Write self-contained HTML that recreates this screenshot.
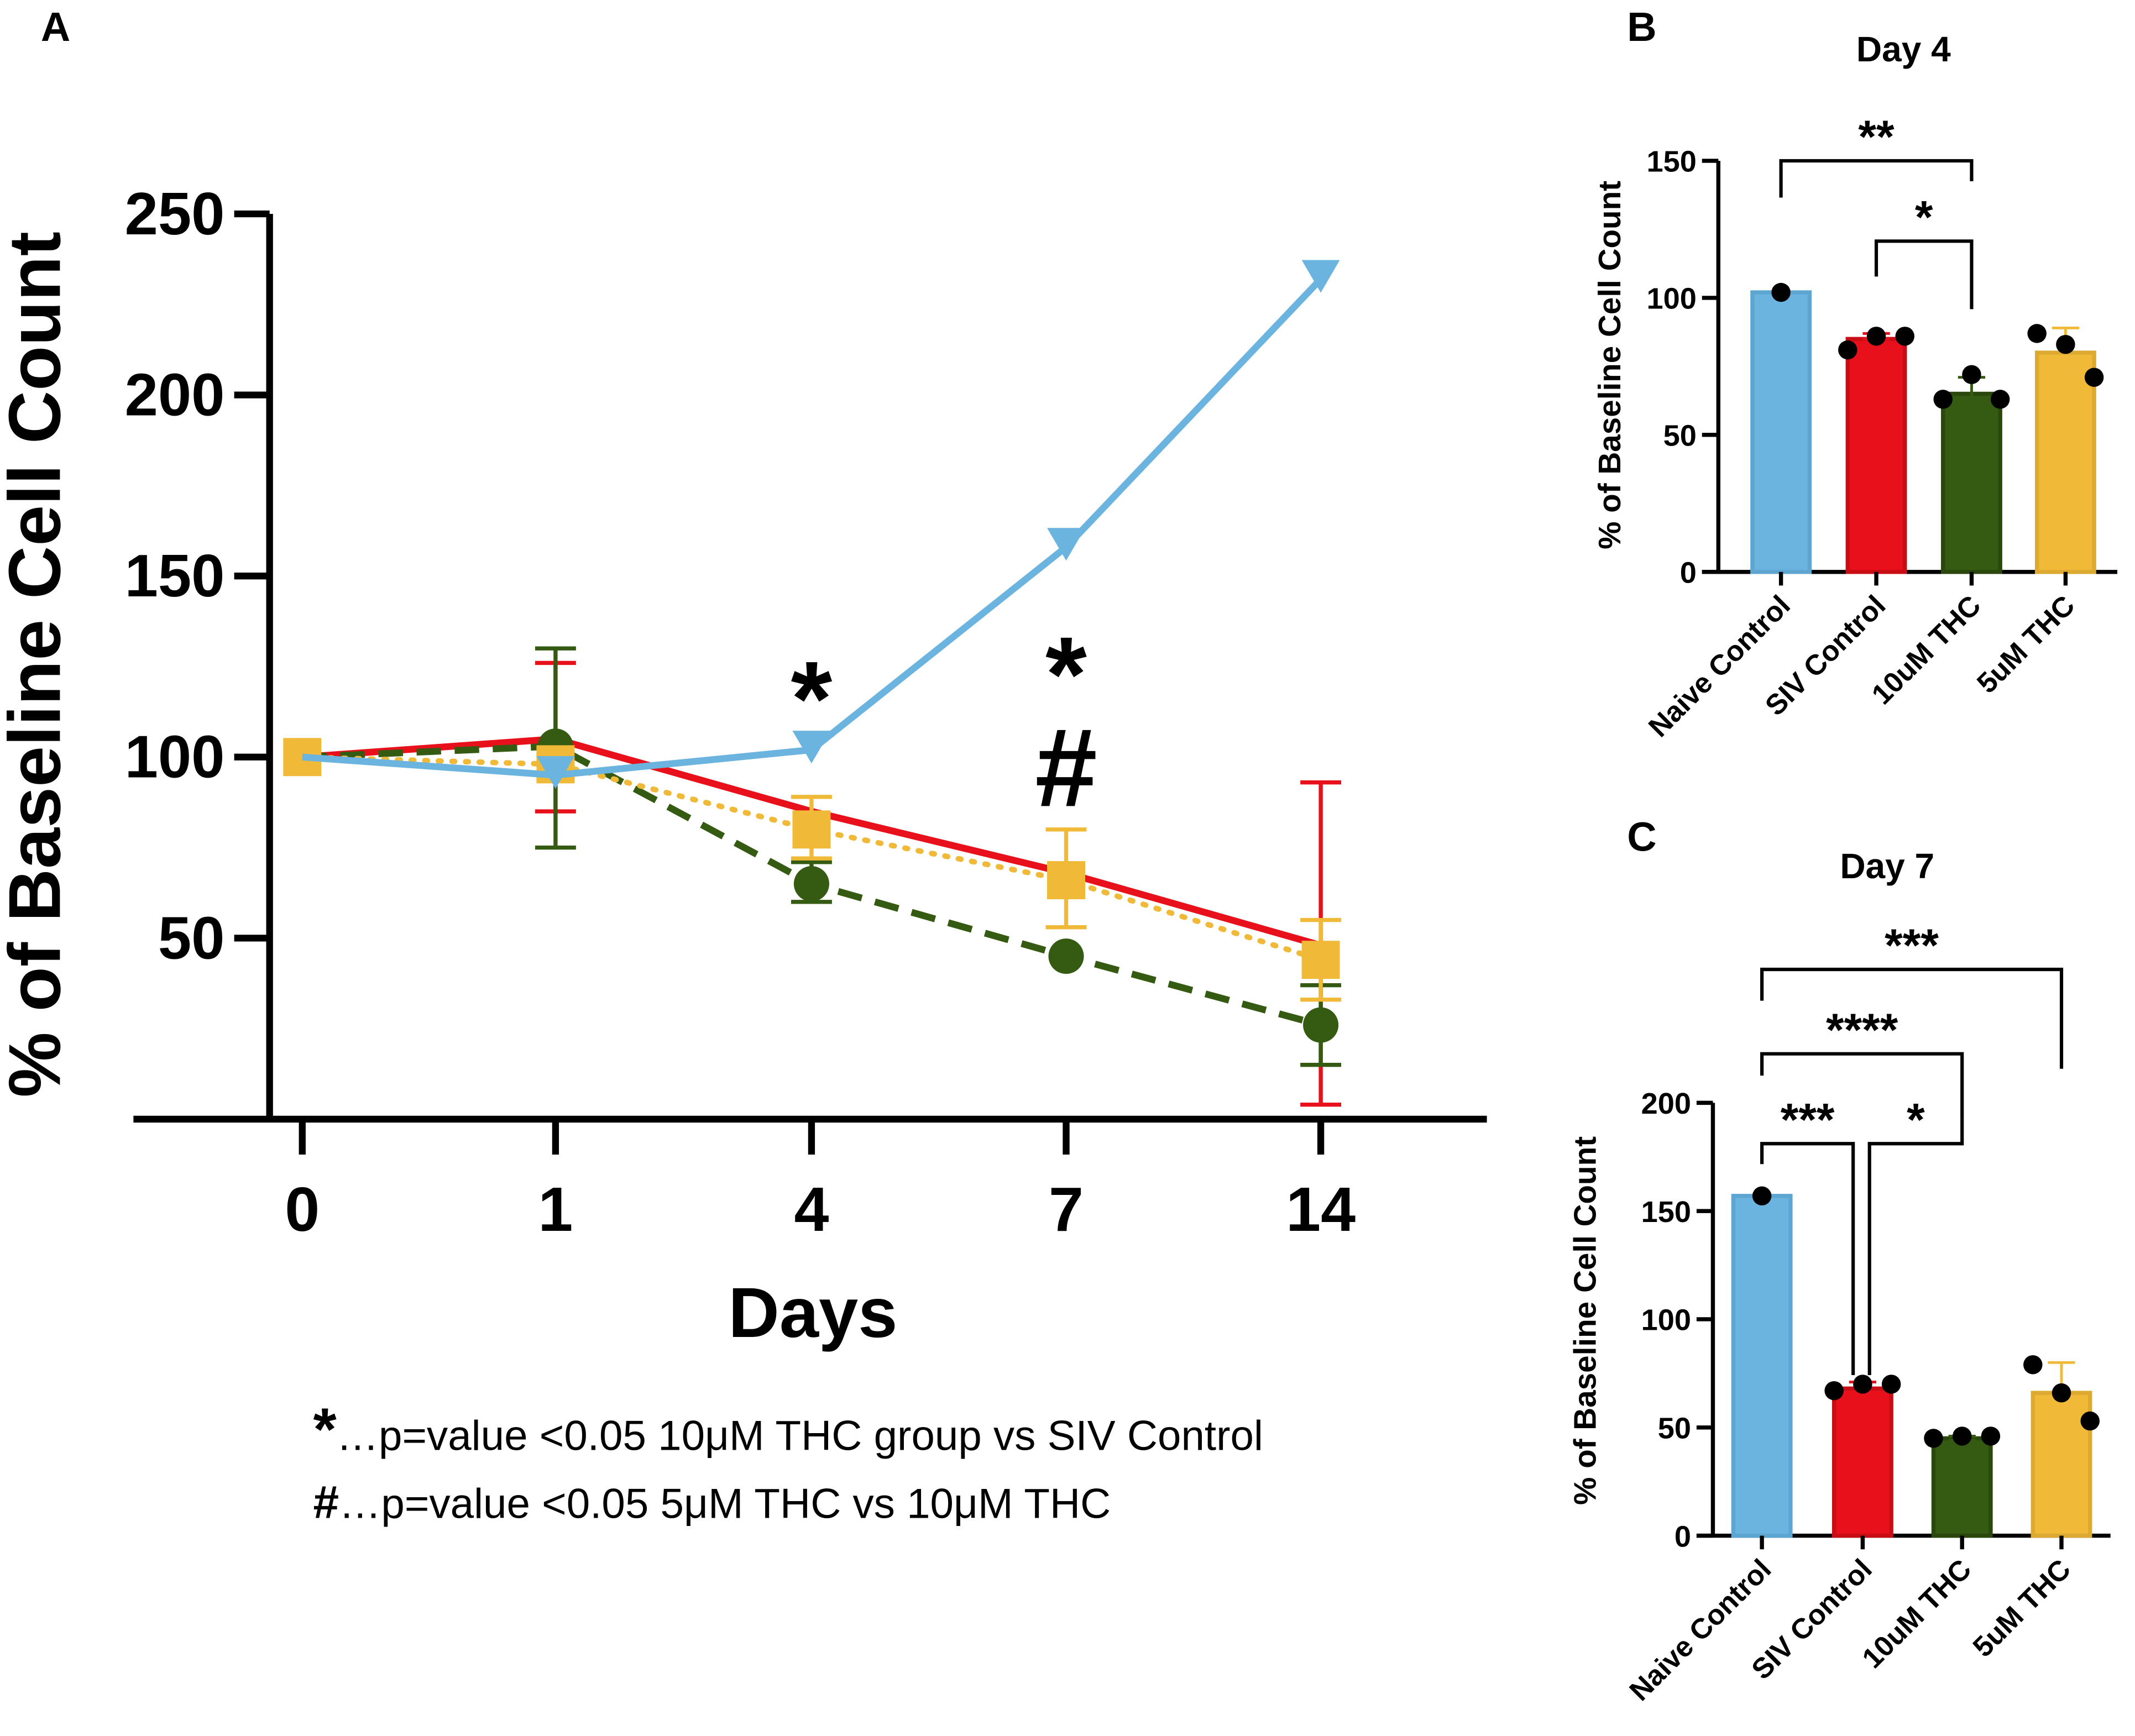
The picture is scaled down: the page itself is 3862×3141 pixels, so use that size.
<!DOCTYPE html>
<html><head><meta charset="utf-8"><style>
html,body{margin:0;padding:0;background:#fff}
svg{display:block}
text{font-family:"Liberation Sans",Arial,sans-serif;font-weight:bold;fill:#000}
</style></head><body>
<svg id="fig" xmlns="http://www.w3.org/2000/svg" width="3862" height="3141" viewBox="0 0 1568 1275">
<rect width="1568" height="1275" fill="#fff"/>
<g id="pA"></g>
<g id="pB"></g>
<g id="pC"></g>
</svg>
<script>
// ---- Panel A data ----
const daysA = ["0","1","4","7","14"];
const naiveA = [100, 95, 102, 158, 232];
const sivA = [100, 105, 85, 68, 48];
const thc10A = [100, 103, 65, 45, 26];
const thc5A = [100, 98, 80, 66, 44];
const sivErrLo = [null, 85, null, null, 4];
const sivErrHi = [null, 126, null, null, 93];
const thc10ErrLo = [null, 75, 60, null, 15];
const thc10ErrHi = [null, 130, 71, null, 37];
const thc5ErrLo = [null, null, 72, 53, 33];
const thc5ErrHi = [null, null, 89, 80, 55];
const ticksA = [50, 100, 150, 200, 250];
// ---- Panel B data ----
const groups = ["Naive Control","SIV Control","10uM THC","5uM THC"];
const meansB = [102, 85, 65, 80];
const errLoB = [null, 85, 59, 71];
const errHiB = [null, 87, 71, 89];
const dotsB = [[102],[81,86,86],[63,72,63],[87,83,71]];
const ticksB = [0, 50, 100, 150];
// ---- Panel C data ----
const meansC = [157, 68, 45, 66];
const errLoC = [null, 66, 44, 53];
const errHiC = [null, 71, 46, 80];
const dotsC = [[157],[67,70,70],[45,46,46],[79,66,53]];
const ticksC = [0, 50, 100, 150, 200];

const NS="http://www.w3.org/2000/svg";
const COL={blue:"#6cb4e0",red:"#e8111b",green:"#355a12",yellow:"#f0ba38"};
function mk(parent,tag,attrs,txt){const e=document.createElementNS(NS,tag);for(const k in attrs)e.setAttribute(k,attrs[k]);if(txt!=null)e.textContent=txt;parent.appendChild(e);return e;}

// ===== Panel A =====
const A=document.getElementById('pA');
const xA=i=>[222,408,596,783,970][i];
const yA=v=>822-(v/50)*133;
let t=mk(A,'text',{x:30,y:30,'font-size':30});t.textContent='A';

let ax=mk(A,'line',{x1:198,y1:157,x2:198,y2:822,stroke:'#000','stroke-width':5});

ax=mk(A,'line',{x1:98,y1:822,x2:1092,y2:822,stroke:'#000','stroke-width':5});

ticksA.forEach(v=>{
  const l=mk(A,'line',{x1:172,y1:yA(v),x2:198,y2:yA(v),stroke:'#000','stroke-width':5});
  
  const tx=mk(A,'text',{x:165,y:yA(v)+15,'font-size':44,'text-anchor':'end'},String(v));
  
});
daysA.forEach((d,i)=>{
  const l=mk(A,'line',{x1:xA(i),y1:822,x2:xA(i),y2:848,stroke:'#000','stroke-width':5});
  
  const tx=mk(A,'text',{x:xA(i),y:904,'font-size':46,'text-anchor':'middle'},d);
  
});
t=mk(A,'text',{x:597,y:982,'font-size':52,'text-anchor':'middle'},'Days');

t=mk(A,'text',{x:0,y:0,'font-size':54,'text-anchor':'middle',transform:'translate(44,488) rotate(-90)'},'% of Baseline Cell Count');


function errs(g,lo,hi,color,w,name){
  lo.forEach((v,i)=>{ if(v==null)return;
    const e=mk(g,'path',{d:`M${xA(i)} ${yA(lo[i])}V${yA(hi[i])}M${xA(i)-w} ${yA(lo[i])}h${2*w}M${xA(i)-w} ${yA(hi[i])}h${2*w}`,stroke:color,'stroke-width':3,fill:'none'});
    
  });
}
function series(vals,color,dash,w,name){
  const g=mk(A,'g',{});
  
  const p=mk(g,'polyline',{points:vals.map((v,i)=>xA(i)+','+yA(v)).join(' '),fill:'none',stroke:color,'stroke-width':w,'stroke-dasharray':dash||'none','stroke-linecap':dash==='2 8'?'round':'butt'});
  
  return g;
}
let gs=series(sivA,COL.red,null,5,'siv-control-series');
errs(gs,sivErrLo,sivErrHi,COL.red,15,'siv-error-bar');
let gg=series(thc10A,COL.green,'18 10',5,'thc10-series');
errs(gg,thc10ErrLo,thc10ErrHi,COL.green,15,'thc10-error-bar');
thc10A.forEach((v,i)=>{const c=mk(gg,'circle',{cx:xA(i),cy:yA(v),r:13,fill:COL.green});
  });
let gy=series(thc5A,COL.yellow,'2 8',4,'thc5-series');
errs(gy,thc5ErrLo,thc5ErrHi,COL.yellow,15,'thc5-error-bar');
thc5A.forEach((v,i)=>{const r=mk(gy,'rect',{x:xA(i)-14,y:yA(v)-14,width:28,height:28,fill:COL.yellow});
  });
let gb=series(naiveA,COL.blue,null,5,'naive-control-series');
naiveA.forEach((v,i)=>{ if(i===0)return; const p=mk(gb,'path',{d:`M${xA(i)-14} ${yA(v)-14}h28l-14 24z`,fill:COL.blue});
  });
[[596,540,'*',78],[783,522,'*',78],[783,592,'#',82]].forEach(a=>{
  const s=mk(A,'text',{x:a[0],y:a[1],'font-size':a[3],'text-anchor':'middle'},a[2]);
  });
t=mk(A,'text',{x:230,y:1065,'font-size':31});

t.innerHTML='<tspan font-weight="bold" font-size="44">*</tspan><tspan font-weight="normal">…p=value &lt;0.05 10μM THC group vs SIV Control</tspan>';
t=mk(A,'text',{x:230,y:1115,'font-size':31});

t.innerHTML='<tspan font-weight="bold" font-size="34">#</tspan><tspan font-weight="normal">…p=value &lt;0.05 5μM THC vs 10μM THC</tspan>';

// ===== Bar panels =====
const barCols=[COL.blue,COL.red,COL.green,COL.yellow];
const barEdge=["#5da6d2","#c80d14","#2a470c","#dcaa30"];
function barPanel(G,o){
  const y=v=>o.y0-v*o.k;
  let t=mk(G,'text',{x:o.lx,y:o.ly,'font-size':30},o.letter);
  
  t=mk(G,'text',{x:o.tx,y:o.ty,'font-size':26,'text-anchor':'middle'},o.title);
  
  let a=mk(G,'line',{x1:o.ax,y1:o.y0,x2:o.ax,y2:y(o.ticks[o.ticks.length-1]),stroke:'#000','stroke-width':3});
  
  a=mk(G,'line',{x1:o.ax-12,y1:o.y0,x2:o.xend,y2:o.y0,stroke:'#000','stroke-width':3});
  
  o.ticks.forEach(v=>{
    const l=mk(G,'line',{x1:o.ax-12,y1:y(v),x2:o.ax,y2:y(v),stroke:'#000','stroke-width':3});
    
    const tx=mk(G,'text',{x:o.ax-16,y:y(v)+8,'font-size':22,'text-anchor':'end'},String(v));
    
  });
  t=mk(G,'text',{x:0,y:0,'font-size':23,'text-anchor':'middle',transform:`translate(${o.ytx},${o.yty}) rotate(-90)`},'% of Baseline Cell Count');
  
  groups.forEach((gname,i)=>{
    const cx=o.cx[i];
    const r=mk(G,'rect',{x:cx-21,y:y(o.means[i]),width:42,height:o.means[i]*o.k,fill:barCols[i],stroke:barEdge[i],'stroke-width':3});
    
    if(o.lo[i]!=null){
      const e=mk(G,'path',{d:`M${cx} ${y(o.lo[i])}V${y(o.hi[i])}M${cx-10} ${y(o.lo[i])}h20M${cx-10} ${y(o.hi[i])}h20`,stroke:i===1?COL.red:(i===2?COL.green:COL.yellow),'stroke-width':2,fill:'none'});
      
    }
    const n=o.dots[i].length;
    o.dots[i].forEach((d,j)=>{
      const dx=n===1?0:(j-1)*21;
      const c=mk(G,'circle',{cx:cx+dx,cy:y(d),r:7,fill:'#000'});
      
    });
    const tk=mk(G,'line',{x1:cx,y1:o.y0,x2:cx,y2:o.y0+10,stroke:'#000','stroke-width':3});
    
    const lb=mk(G,'text',{x:0,y:0,'font-size':21,'text-anchor':'end',transform:`translate(${cx+8},${o.y0+26}) rotate(-45)`},gname);
    
  });
  o.brackets.forEach(b=>{
    const x1=o.cx[b[0]]+(b[6]||0),x2=o.cx[b[1]]+(b[7]||0),yb=b[2];
    const p=mk(G,'path',{d:`M${x1} ${b[3]}V${yb}H${x2}V${b[4]}`,stroke:'#000','stroke-width':2.5,fill:'none'});
    
    const s=mk(G,'text',{x:(x1+x2)/2,y:yb-6,'font-size':34,'text-anchor':'middle'},b[5]);
    
  });
}
barPanel(document.getElementById('pB'),{letter:'B',lx:1195,ly:30,title:'Day 4',tx:1398,ty:45,ax:1262,y0:420,k:302/150,xend:1555,ticks:ticksB,
  ytx:1190,yty:268,cx:[1308,1378,1448,1517],means:meansB,lo:errLoB,hi:errHiB,dots:dotsB,
  brackets:[[0,2,118,145,133,'**'],[1,2,177,203,227,'*']]});
barPanel(document.getElementById('pC'),{letter:'C',lx:1195,ly:625,title:'Day 7',tx:1386,ty:645,ax:1258,y0:1128,k:318/200,xend:1550,ticks:ticksC,
  ytx:1172,yty:970,cx:[1294,1368,1441,1514],means:meansC,lo:errLoC,hi:errHiC,dots:dotsC,
  brackets:[[0,3,712,735,785,'***'],[0,2,774,790,822,'****'],[0,1,840,855,1010,'***',0,-7],[1,2,840,1010,822,'*',5,0]]});
</script>
</body></html>
